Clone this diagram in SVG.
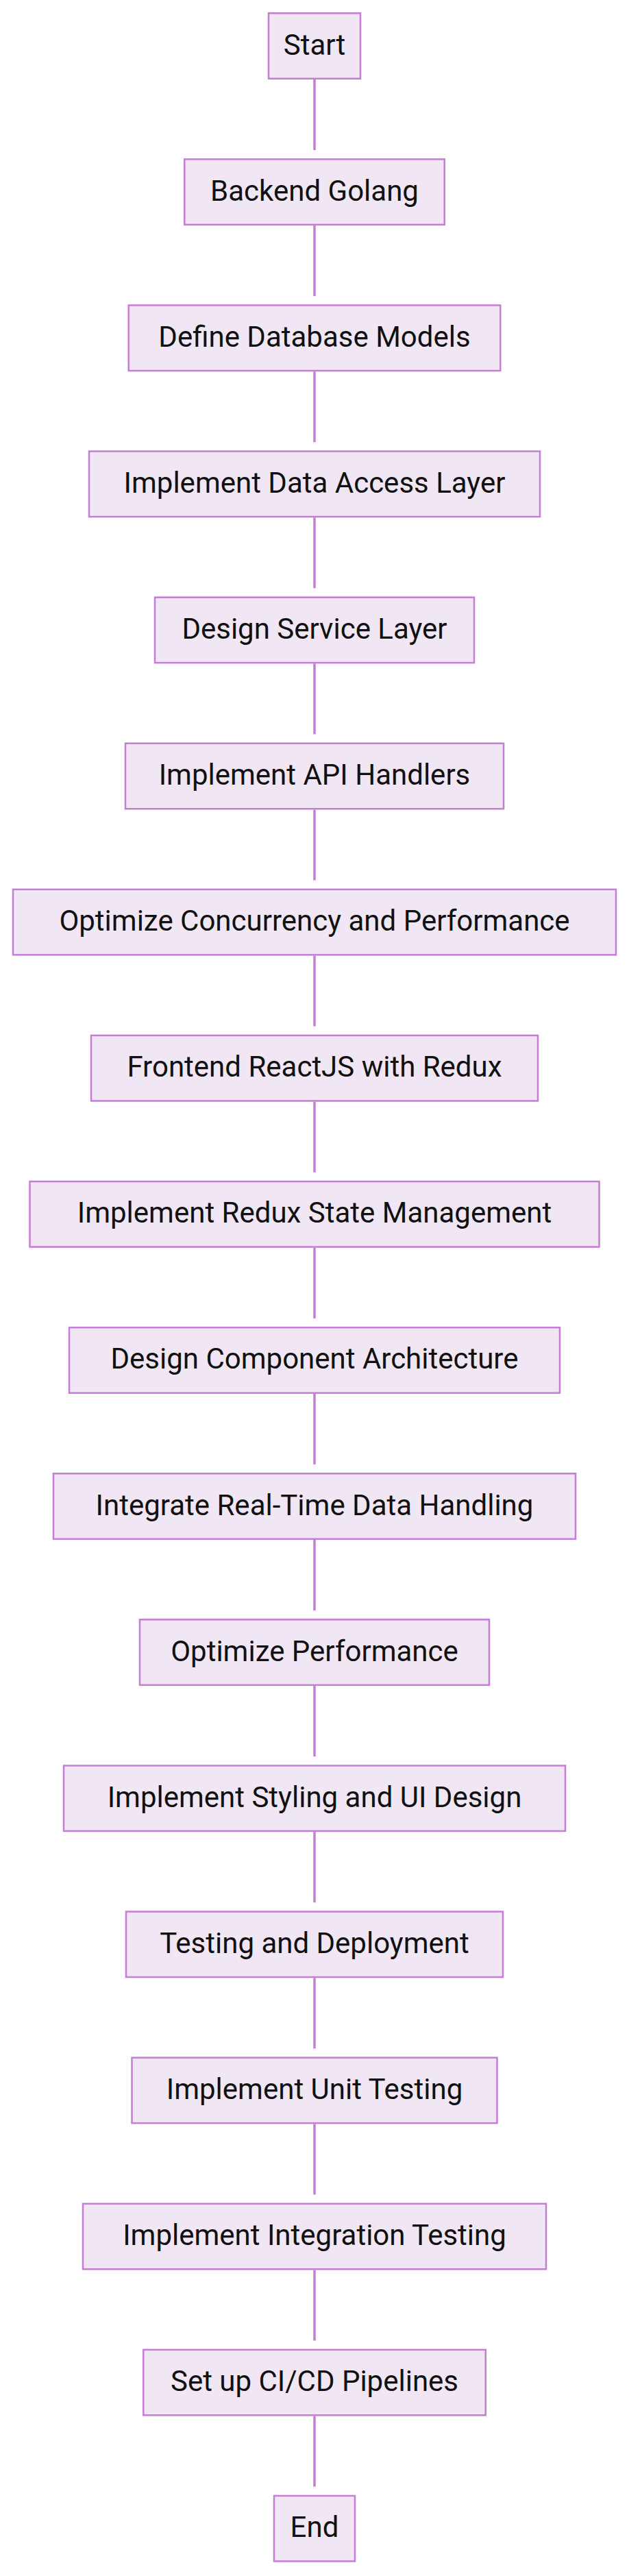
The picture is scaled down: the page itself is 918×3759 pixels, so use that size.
<svg xmlns="http://www.w3.org/2000/svg" width="918" height="3759" viewBox="0 0 918 3759">
<style>
.n rect{fill:#F0E6F4;stroke:#C57DD6;stroke-width:2.5}
.n text{font-family:Roboto,"Liberation Sans",sans-serif;font-size:42px;fill:#111;text-anchor:middle}
.e line{stroke:#C57DD6;stroke-width:3.5}
</style>
<rect width="918" height="3759" fill="#fff"/>
<g class="e" id="connectors">
<line x1="459" y1="116" x2="459" y2="219"/>
<line x1="459" y1="329.1" x2="459" y2="432.1"/>
<line x1="459" y1="542.2" x2="459" y2="645.2"/>
<line x1="459" y1="755.3" x2="459" y2="858.3"/>
<line x1="459" y1="968.4" x2="459" y2="1071.4"/>
<line x1="459" y1="1181.5" x2="459" y2="1284.5"/>
<line x1="459" y1="1394.6" x2="459" y2="1497.6"/>
<line x1="459" y1="1607.7" x2="459" y2="1710.7"/>
<line x1="459" y1="1820.8" x2="459" y2="1923.8"/>
<line x1="459" y1="2033.9" x2="459" y2="2136.9"/>
<line x1="459" y1="2247" x2="459" y2="2350"/>
<line x1="459" y1="2460.1" x2="459" y2="2563.1"/>
<line x1="459" y1="2673.2" x2="459" y2="2776.2"/>
<line x1="459" y1="2886.3" x2="459" y2="2989.3"/>
<line x1="459" y1="3099.4" x2="459" y2="3202.4"/>
<line x1="459" y1="3312.5" x2="459" y2="3415.5"/>
<line x1="459" y1="3525.6" x2="459" y2="3628.6"/>
</g>
<g class="n" id="start"><rect x="392" y="19.25" width="134" height="95.5"/><text x="459" y="79.5">Start</text></g>
<g class="n" id="backend"><rect x="269.25" y="232.35" width="379.5" height="95.5"/><text x="459" y="292.6">Backend Golang</text></g>
<g class="n" id="define-models"><rect x="187.75" y="445.45" width="542.5" height="95.5"/><text x="459" y="505.7">Define Database Models</text></g>
<g class="n" id="data-access"><rect x="130" y="658.55" width="658" height="95.5"/><text x="459" y="718.8">Implement Data Access Layer</text></g>
<g class="n" id="service-layer"><rect x="226" y="871.65" width="466" height="95.5"/><text x="459" y="931.9">Design Service Layer</text></g>
<g class="n" id="api-handlers"><rect x="183" y="1084.75" width="552" height="95.5"/><text x="459" y="1145">Implement API Handlers</text></g>
<g class="n" id="concurrency"><rect x="19" y="1297.85" width="880" height="95.5"/><text x="459" y="1358.1">Optimize Concurrency and Performance</text></g>
<g class="n" id="frontend"><rect x="133" y="1510.95" width="652" height="95.5"/><text x="459" y="1571.2">Frontend ReactJS with Redux</text></g>
<g class="n" id="redux-state"><rect x="43.5" y="1724.05" width="831" height="95.5"/><text x="459" y="1784.3">Implement Redux State Management</text></g>
<g class="n" id="component-arch"><rect x="101" y="1937.15" width="716" height="95.5"/><text x="459" y="1997.4">Design Component Architecture</text></g>
<g class="n" id="realtime"><rect x="78" y="2150.25" width="762" height="95.5"/><text x="459" y="2210.5">Integrate Real-Time Data Handling</text></g>
<g class="n" id="optimize-perf"><rect x="204" y="2363.35" width="510" height="95.5"/><text x="459" y="2423.6">Optimize Performance</text></g>
<g class="n" id="styling"><rect x="93" y="2576.45" width="732" height="95.5"/><text x="459" y="2636.7">Implement Styling and UI Design</text></g>
<g class="n" id="testing-deploy"><rect x="184" y="2789.55" width="550" height="95.5"/><text x="459" y="2849.8">Testing and Deployment</text></g>
<g class="n" id="unit-testing"><rect x="192.5" y="3002.65" width="533" height="95.5"/><text x="459" y="3062.9">Implement Unit Testing</text></g>
<g class="n" id="integration-testing"><rect x="121" y="3215.75" width="676" height="95.5"/><text x="459" y="3276">Implement Integration Testing</text></g>
<g class="n" id="cicd"><rect x="209.25" y="3428.85" width="499.5" height="95.5"/><text x="459" y="3489.1">Set up CI/CD Pipelines</text></g>
<g class="n" id="end"><rect x="400" y="3641.95" width="118" height="95.5"/><text x="459" y="3702.2">End</text></g>
</svg>
